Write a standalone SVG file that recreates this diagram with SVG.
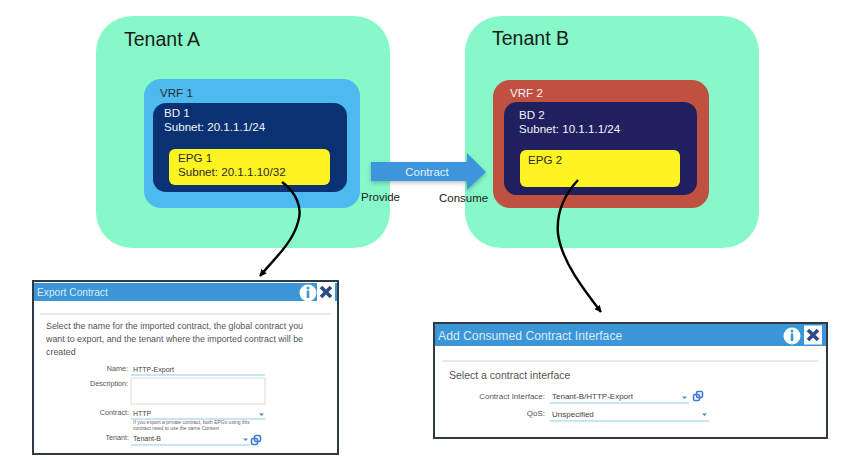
<svg xmlns="http://www.w3.org/2000/svg" width="847" height="460" viewBox="0 0 847 460">
<style>
text{font-family:"Liberation Sans",Arial,sans-serif}
.w{fill:#f0f4f8;font-size:11.6px}
.k{fill:#2b2b2b;font-size:11.6px}
.title{fill:#d8ecf8;font-size:10.2px}
.body{fill:#555;font-size:8.9px}
.lab{fill:#555;font-size:7.2px;text-anchor:end}
.val{fill:#444;font-size:7px}
.u{stroke:#8ccdec;stroke-width:1;fill:none}
.curve{fill:none;stroke:#000;stroke-width:2.4}
</style>
<defs>
<marker id="ah" viewBox="0 0 10 10" refX="9" refY="5" markerWidth="7" markerHeight="7" orient="auto-start-reverse" markerUnits="userSpaceOnUse"><path d="M0 0L10 5L0 10Z" fill="#000"/></marker>
<filter id="sh" x="-10%" y="-20%" width="120%" height="150%"><feDropShadow dx="0" dy="2" stdDeviation="2" flood-color="#000" flood-opacity=".25"/></filter>
<g id="info"><circle r="8.5" fill="#fff"/><rect x="-1.3" y="-2.5" width="2.6" height="7.5" fill="#3b95d6"/><circle cy="-5" r="1.5" fill="#3b95d6"/></g>
<g id="x"><rect x="-9" y="-9.5" width="18" height="19" fill="#fff"/><path d="M-5-5L5 5M5-5L-5 5" stroke="#2c4b86" stroke-width="3.6"/></g>
<g id="copy" fill="none" stroke="#3f78d6" stroke-width="1.6"><rect x="-1.5" y="-4.5" width="6" height="6" rx="1.5"/><rect x="-4.5" y="-1.5" width="6" height="6" rx="1.5"/></g>
</defs>
<rect width="847" height="460" fill="#fff"/>

<g id="tenant-a">
<rect x="96" y="16" width="294" height="232" rx="36" fill="#87f8c8"/>
<text x="124" y="46" font-size="19.500" fill="#1a1a1a">Tenant A</text>
</g>
<g id="tenant-b">
<rect x="465" y="16" width="294" height="232" rx="36" fill="#87f8c8"/>
<text x="492" y="45" font-size="19.500" fill="#1a1a1a">Tenant B</text>
</g>

<g id="vrf-1">
<rect x="144" y="79" width="216" height="129" rx="17" fill="#4cb9ef"/>
<text x="160" y="97" class="k">VRF 1</text>
</g>
<g id="bd-1">
<rect x="153" y="103" width="194" height="89" rx="13" fill="#0a3272"/>
<text x="164" y="117" class="w">BD 1</text>
<text x="164" y="131" class="w">Subnet: 20.1.1.1/24</text>
</g>
<g id="epg-1">
<rect x="169" y="149" width="161" height="36" rx="6" fill="#fdf421"/>
<text x="178" y="162" class="k">EPG 1</text>
<text x="178" y="176" class="k">Subnet: 20.1.1.10/32</text>
</g>

<g id="vrf-2">
<rect x="493" y="80" width="216" height="128" rx="17" fill="#c05040"/>
<text x="510" y="97" class="w">VRF 2</text>
</g>
<g id="bd-2">
<rect x="504" y="102" width="193" height="93" rx="13" fill="#20205e"/>
<text x="519" y="119" class="w">BD 2</text>
<text x="519" y="133" class="w">Subnet: 10.1.1.1/24</text>
</g>
<g id="epg-2">
<rect x="520" y="150" width="160" height="37" rx="6" fill="#fdf421"/>
<text x="528" y="164" class="k">EPG 2</text>
</g>

<g id="contract">
<path d="M371 162H467V153L486 172L467 190V181H371Z" fill="#3d95dc" filter="url(#sh)"/>
<text x="427" y="176" text-anchor="middle" font-size="11.500" fill="#e4f0fa">Contract</text>
</g>
<g id="provide"><text x="361" y="201" font-size="11.500" fill="#222">Provide</text></g>
<g id="consume"><text x="439" y="202" font-size="11.500" fill="#222">Consume</text></g>

<g id="connectors">
<path class="curve" marker-end="url(#ah)" d="M282 182C296 192 303 208 298 222C293 242 275 258 260 276"/>
<path class="curve" marker-end="url(#ah)" d="M578 180C565 194 556 212 558 234C562 262 584 290 601 312"/>
</g>

<g id="export-dialog">
<rect x="33" y="281" width="305" height="173" fill="#fff" stroke="#2f3a44" stroke-width="2"/>
<rect x="34" y="283" width="303" height="18" fill="#3b95d6"/>
<text x="37" y="296" class="title">Export Contract</text>
<use href="#info" x="308" y="293"/>
<use href="#x" x="326" y="292"/>
<path d="M40 314H331" stroke="#d4d4d8"/>
<text x="46" y="329" class="body">Select the name for the imported contract, the global contract you</text>
<text x="46" y="342" class="body">want to export, and the tenant where the imported contract will be</text>
<text x="46" y="355" class="body">created</text>
<text x="128" y="371" class="lab">Name:</text>
<text x="133" y="372" class="val">HTTP-Export</text>
<path class="u" d="M131 375H265"/>
<text x="128" y="386" class="lab">Description:</text>
<rect x="131" y="378" width="134" height="26" fill="#fff" stroke="#d6dde2"/>
<text x="129" y="415" class="lab">Contract:</text>
<text x="133" y="416" class="val">HTTP</text>
<path d="M259 413.500h5l-2.500 2.500Z" fill="#4a86d0"/>
<path class="u" d="M131 419H265"/>
<text x="133" y="424" font-size="5" fill="#666">If you export a private contract, both EPGs using this</text>
<text x="133" y="430" font-size="5" fill="#666">contract need to use the same Context</text>
<text x="129" y="440" class="lab">Tenant:</text>
<text x="133" y="441" class="val">Tenant-B</text>
<path d="M243 438.500h5l-2.500 2.500Z" fill="#4a86d0"/>
<path class="u" d="M131 445H250"/>
<use href="#copy" x="256" y="440"/>
</g>

<g id="consumed-dialog">
<rect x="434" y="323" width="393" height="115" fill="#fff" stroke="#2f3a44" stroke-width="2"/>
<rect x="435" y="324" width="391" height="22" fill="#3b95d6"/>
<text x="438" y="340" font-size="12.200" fill="#d8ecf8">Add Consumed Contract Interface</text>
<use href="#info" x="792" y="336"/>
<use href="#x" x="813" y="335"/>
<path d="M442 361H818" stroke="#d4d4d8"/>
<text x="449" y="379" font-size="10.500" fill="#555">Select a contract interface</text>
<text x="545" y="399" class="lab" style="font-size:8px">Contract Interface:</text>
<text x="552" y="399" class="val" style="font-size:8px">Tenant-B/HTTP-Export</text>
<path d="M682 396.500h5l-2.500 2.500Z" fill="#4a86d0"/>
<path class="u" d="M550 403H689"/>
<use href="#copy" x="698" y="396"/>
<text x="545" y="416" class="lab" style="font-size:8px">QoS:</text>
<text x="552" y="417" class="val" style="font-size:8px">Unspecified</text>
<path d="M702 413.500h5l-2.500 2.500Z" fill="#4a86d0"/>
<path class="u" d="M550 421H709"/>
</g>
</svg>
